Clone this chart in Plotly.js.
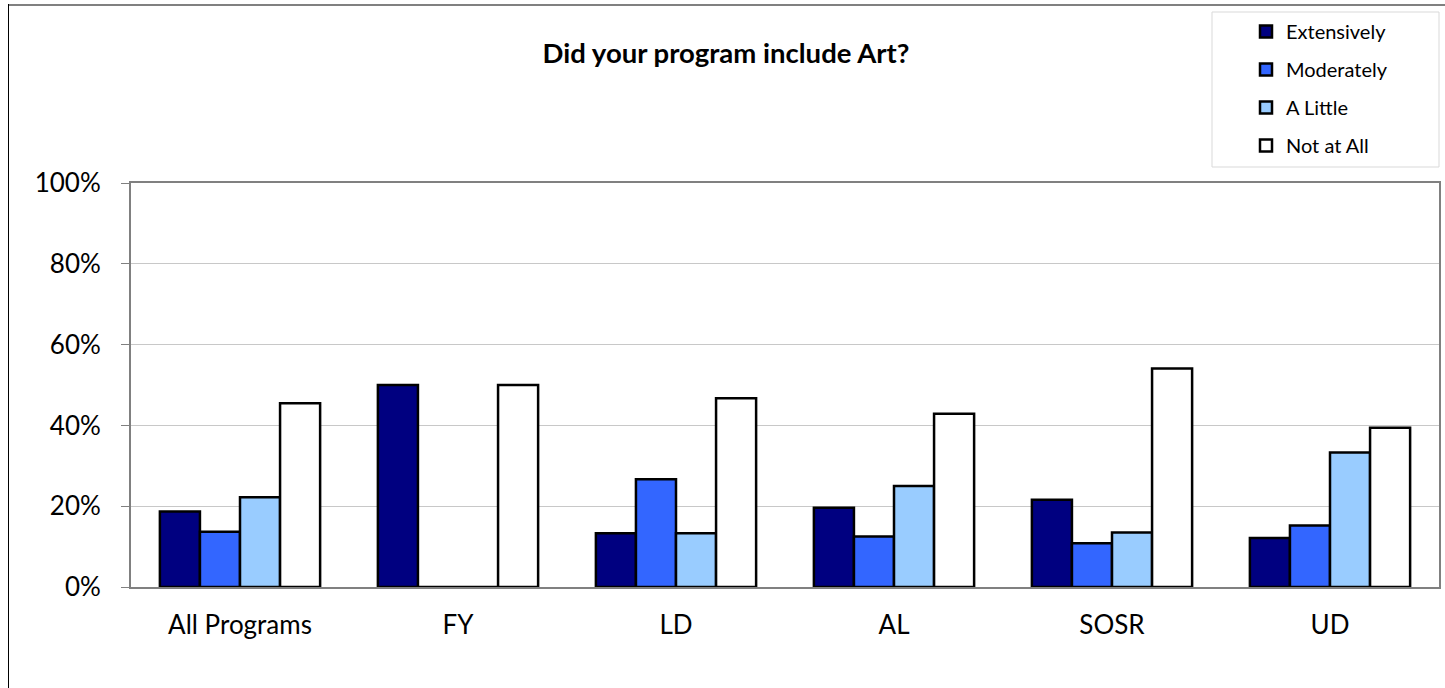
<!DOCTYPE html>
<html>
<head>
<meta charset="utf-8">
<script src="https://cdn.plot.ly/plotly-3.0.1.min.js"></script>
<style>html,body{margin:0;padding:0;background:#fff;}#chart{width:1445px;height:688px;}</style>
</head>
<body>
<div id="chart"></div>
<script>
const categories = ["All Programs", "FY", "LD", "AL", "SOSR", "UD"];
const extensively = [18.7, 50.0, 13.3, 19.6, 21.6, 12.1];
const moderately  = [13.7, 0, 26.7, 12.5, 10.8, 15.2];
const aLittle     = [22.2, 0, 13.3, 25.0, 13.5, 33.3];
const notAtAll    = [45.5, 50.0, 46.7, 42.9, 54.1, 39.4];
const seriesNames = ["Extensively", "Moderately", "A Little", "Not at All"];
const seriesColors = ["#000080", "#3366FF", "#99CCFF", "#FFFFFF"];
const yTicks = [0, 20, 40, 60, 80, 100];
const yTickLabels = ["0%", "20%", "40%", "60%", "80%", "100%"];

const seriesValues = [extensively, moderately, aLittle, notAtAll];
const FONT = "Lato, 'Open Sans', sans-serif";

const traces = seriesValues.map((vals, i) => ({
  type: "bar",
  name: seriesNames[i],
  x: categories,
  y: vals,
  legendgroup: "g" + i,
  marker: { color: seriesColors[i], line: { color: "#000000", width: 2.5 } },
  hoverinfo: "x+y+name"
}));

const W = 1445, L = 131, R = 6, PW = W - L - R;
const H = 688, T = 183, B = 101, PH = H - T - B;
const px = v => (v - L) / PW;
const py = v => (H - B - v) / PH;

const layout = {
  width: W, height: H,
  margin: { l: L, r: R, t: T, b: B, pad: 0, autoexpand: false },
  paper_bgcolor: "#ffffff",
  plot_bgcolor: "#ffffff",
  font: { family: FONT, size: 26, color: "#000000" },
  title: {
    text: "<b>Did your program include Art?</b>",
    font: { family: FONT, size: 27.5, color: "#000000" },
    xref: "container", yref: "container",
    x: 726 / W, xanchor: "center",
    y: 1 - 53 / H, yanchor: "middle"
  },
  barmode: "group",
  bargap: 0.265,
  bargroupgap: 0,
  xaxis: {
    type: "category",
    showline: true, linecolor: "#808080", linewidth: 2, mirror: true,
    ticks: "", showgrid: false,
    tickfont: { family: FONT, size: 26, color: "#000000" },
    ticklabelstandoff: 14
  },
  yaxis: {
    range: [0, 100],
    tickmode: "array",
    tickvals: yTicks,
    ticktext: yTickLabels,
    showline: true, linecolor: "#808080", linewidth: 2, mirror: true,
    ticks: "outside", ticklen: 8, tickcolor: "#808080", tickwidth: 1,
    showgrid: true, gridcolor: "#c8c8c8", gridwidth: 1,
    zeroline: false,
    tickfont: { family: FONT, size: 26, color: "#000000" },
    ticklabelstandoff: 15
  },
  showlegend: true,
  legend: {
    xref: "paper", yref: "paper",
    x: px(1246), xanchor: "left",
    y: py(12), yanchor: "top",
    bgcolor: "rgba(0,0,0,0)", borderwidth: 0,
    font: { family: FONT, size: 20, color: "#000000" },
    traceorder: "grouped",
    tracegroupgap: 9
  },
  shapes: [
    // legend box
    { type: "rect", xref: "paper", yref: "paper",
      x0: px(1212), x1: px(1439), y0: py(12), y1: py(167),
      line: { color: "#d9d9d9", width: 1 }, fillcolor: "rgba(0,0,0,0)", layer: "below" },
    // outer chart border: top and left
    { type: "line", xref: "paper", yref: "paper",
      x0: px(8), x1: px(1445), y0: py(5), y1: py(5),
      line: { color: "#808080", width: 2 } },
    { type: "line", xref: "paper", yref: "paper",
      x0: px(8.5), x1: px(8.5), y0: py(4), y1: py(688),
      line: { color: "#000000", width: 1 } }
  ]
};

Plotly.newPlot("chart", traces, layout, { displayModeBar: false });
</script>
</body>
</html>
